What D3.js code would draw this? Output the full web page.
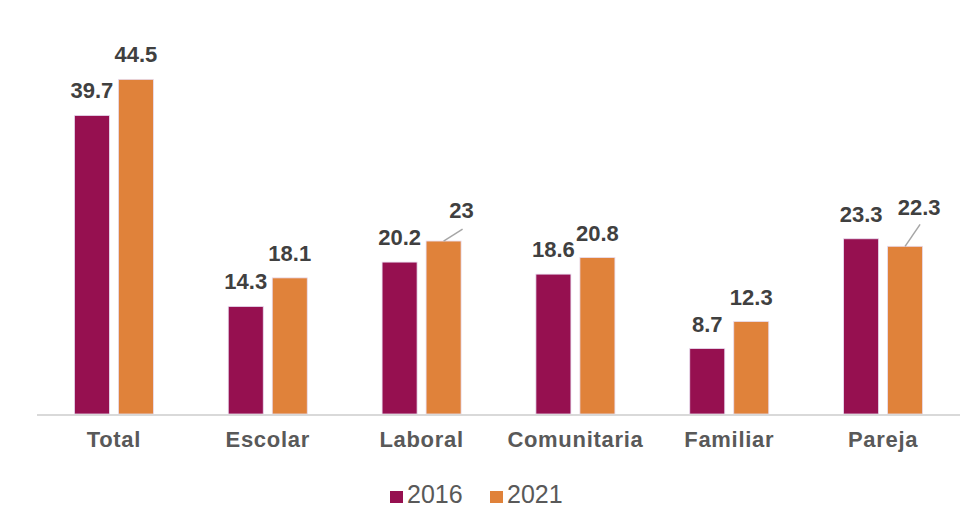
<!DOCTYPE html>
<html><head><meta charset="utf-8">
<script src="https://cdn.jsdelivr.net/npm/d3@7"></script>
<style>html,body{margin:0;padding:0;background:#fff;}svg{display:block;}</style>
</head><body>
<script>
const categories = ["Total","Escolar","Laboral","Comunitaria","Familiar","Pareja"];
const series = ["2016","2021"];
const values2016 = [39.7,14.3,20.2,18.6,8.7,23.3];
const values2021 = [44.5,18.1,23,20.8,12.3,22.3];
const colors = ["#961050","#E0823A"];
// callout labels (category index, series index, dx, dy relative to bar top)
const callouts = [[2,1,18,-23],[5,1,14,-31]];

const W=972,H=508;
const svg=d3.select("body").append("svg").attr("width",W).attr("height",H);
const x=d3.scaleBand().domain(categories).range([37,960]).padding(0);
const y=d3.scaleLinear().domain([0,50]).range([414,38]);
const barW=35, gap=9;
const data=[];
categories.forEach((c,i)=>{
  [values2016[i],values2021[i]].forEach((v,s)=>data.push({c,i,s,v}));
});
const bx=d=>x(d.c)+x.bandwidth()/2+(d.s===0?-(barW+gap/2):gap/2);

svg.append("g").selectAll("rect").data(data).join("rect")
  .attr("x",bx).attr("width",barW)
  .attr("y",d=>y(d.v)).attr("height",d=>y(0)-y(d.v))
  .attr("fill",d=>colors[d.s]).attr("stroke","#e8dcf0").attr("stroke-width",0.8);

svg.append("line").attr("x1",37).attr("x2",960).attr("y1",y(0)+1).attr("y2",y(0)+1)
  .attr("stroke","#d9d9d9").attr("stroke-width",2);

const fmt=v=>String(v);
const lab=svg.append("g").attr("font-family","Liberation Sans, Arial, sans-serif")
  .attr("font-weight","bold").attr("font-size",22).attr("fill","#404040").attr("text-anchor","middle");
data.forEach(d=>{
  const co=callouts.find(q=>q[0]===d.i&&q[1]===d.s);
  const cx=bx(d)+barW/2, top=y(d.v);
  if(co){
    const lx=cx+co[2], ly=top+co[3];
    lab.append("text").attr("x",lx).attr("y",ly).text(fmt(d.v));
    svg.append("line").attr("x1",cx).attr("y1",top)
      .attr("x2",lx+1).attr("y2",top-(d.i===2?12:22)).attr("stroke","#a6a6a6").attr("stroke-width",1.5);
  } else {
    lab.append("text").attr("x",cx).attr("y",top-17).text(fmt(d.v));
  }
});

const xa=svg.append("g").attr("font-family","Liberation Sans, Arial, sans-serif")
  .attr("font-weight","bold").attr("font-size",22).attr("letter-spacing",0.7).attr("fill","#595959").attr("text-anchor","middle");
categories.forEach(c=>xa.append("text").attr("x",x(c)+x.bandwidth()/2).attr("y",447).text(c));

const lg=svg.append("g").attr("font-family","Liberation Sans, Arial, sans-serif")
  .attr("font-size",25).attr("fill","#595959");
const lx=[390,490];
series.forEach((s,k)=>{
  lg.append("rect").attr("x",lx[k]).attr("y",491).attr("width",13).attr("height",12).attr("fill",colors[k]);
  lg.append("text").attr("x",lx[k]+17).attr("y",503).text(s);
});
</script>
</body></html>
